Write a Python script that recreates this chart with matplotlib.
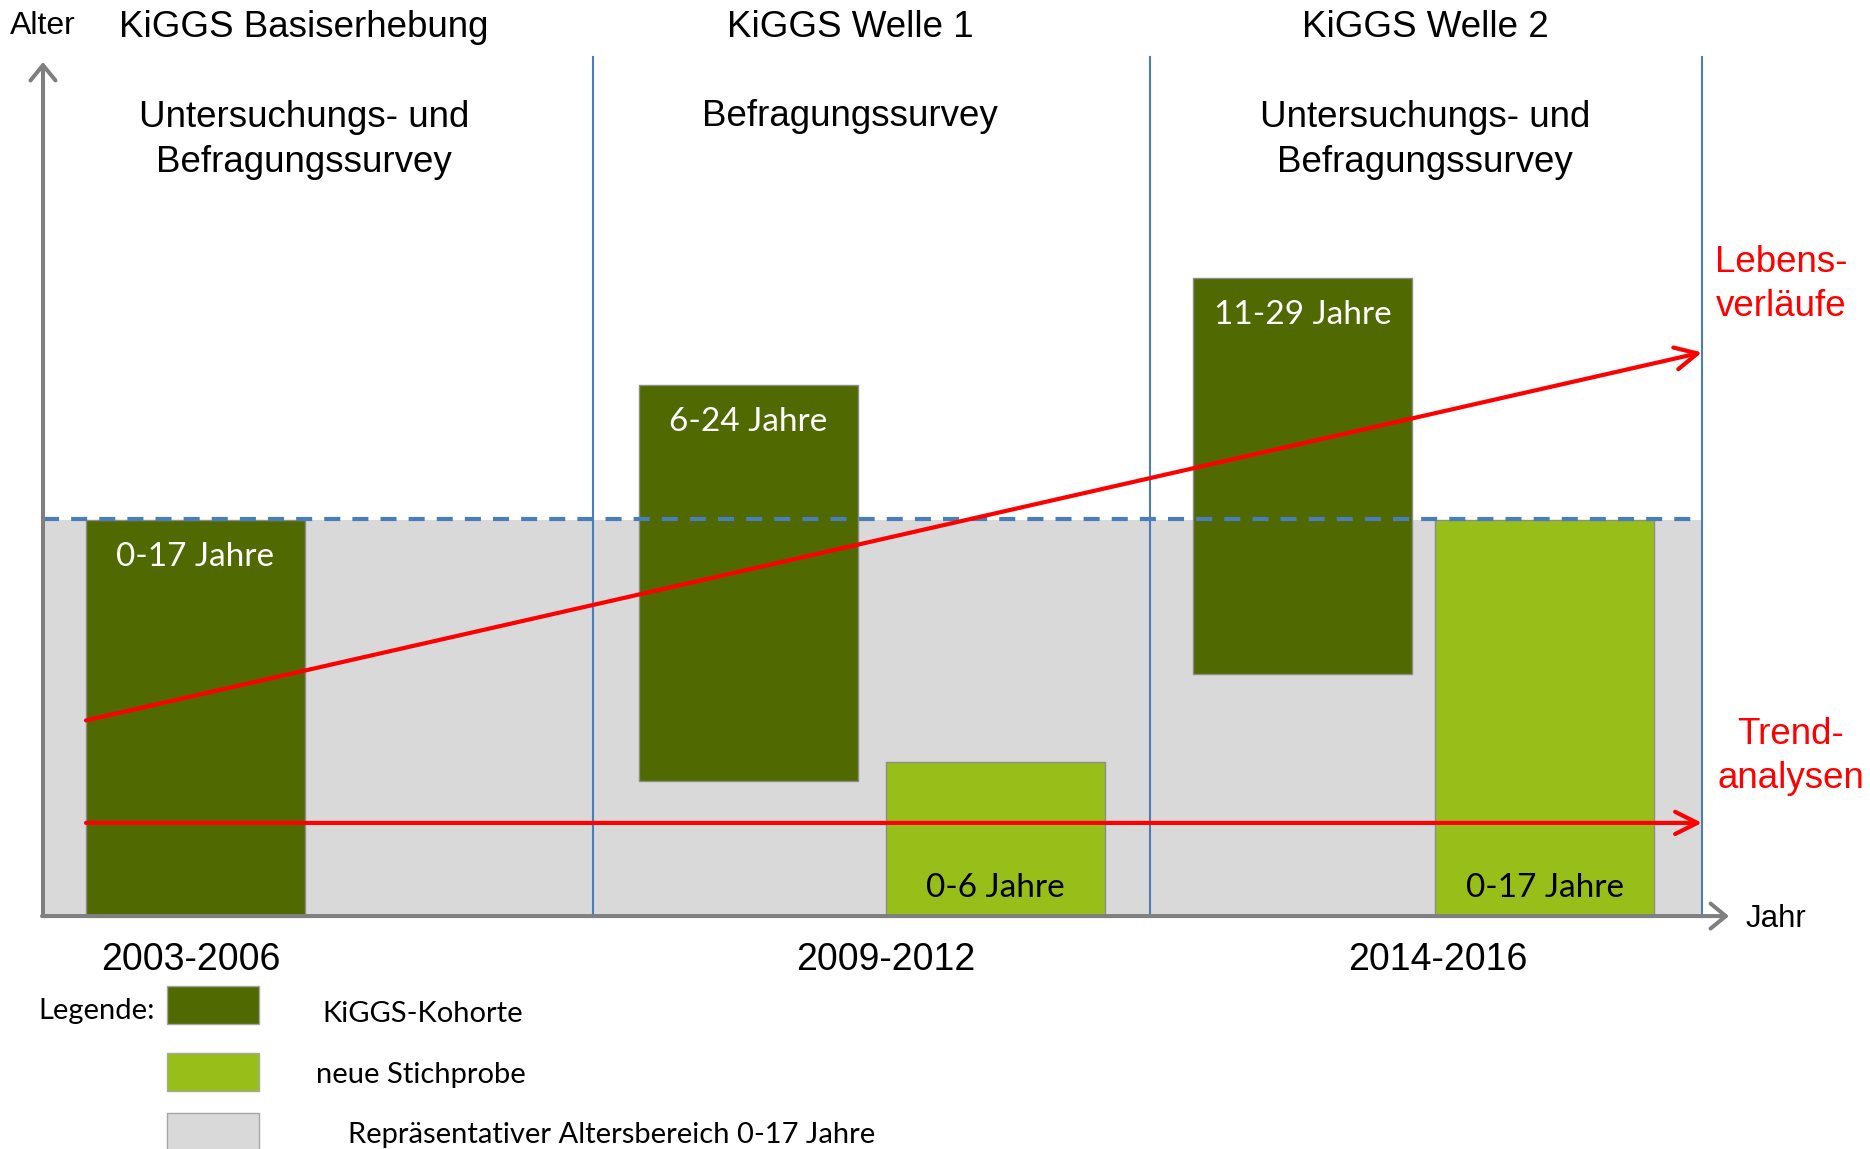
import matplotlib
matplotlib.use("Agg")
import matplotlib.pyplot as plt
from matplotlib.patches import Rectangle

# ---------------- data ----------------
waves = ["KiGGS Basiserhebung", "KiGGS Welle 1", "KiGGS Welle 2"]
survey_types = ["Untersuchungs- und\nBefragungssurvey", "Befragungssurvey",
                "Untersuchungs- und\nBefragungssurvey"]
periods = ["2003-2006", "2009-2012", "2014-2016"]
cohort_labels = ["0-17 Jahre", "6-24 Jahre", "0-6 Jahre", "11-29 Jahre", "0-17 Jahre"]
cohort_types = ["KiGGS-Kohorte", "KiGGS-Kohorte", "neue Stichprobe",
                "KiGGS-Kohorte", "neue Stichprobe"]
age_low = [0, 5.8, 0, 10.4, 0]
age_high = [17, 22.8, 6.6, 27.4, 17]
repr_range = [0, 17]
lebens_ages = [8.4, 24.2]
trend_age = [4.0, 4.0]
legend_labels = ["KiGGS-Kohorte", "neue Stichprobe", "Repräsentativer Altersbereich 0-17 Jahre"]

# ---------------- layout (pixels) ----------------
W, H = 1870, 1149
X0 = 43            # y axis position
X_AXIS_END = 1729
Y_TOP_TIP = 39.33 - 62 / 23.29   # arrow tip of age axis
wave_bounds = [593, 1150, 1702]
bar_left = [86, 639, 886, 1193, 1435]
bar_width = 219
header_x = [304, 850, 1425]
period_x = [191, 886, 1438]
YMIN, YMAX = -10.0, 39.33

DARK = "#506900"
LIGHT = "#98BE19"
GREY = "#D9D9D9"
BLUE = "#4A7EBB"
RED = "#FF0000"
AXG = "#7F7F7F"
colors = {"KiGGS-Kohorte": DARK, "neue Stichprobe": LIGHT}
txtcol = {"KiGGS-Kohorte": "white", "neue Stichprobe": "black"}

ARIAL = "Liberation Sans"
CAL = "Lato"

fig = plt.figure(figsize=(W / 100, H / 100), dpi=100)
ax = fig.add_axes([0, 0, 1, 1])
ax.set_xlim(0, W)
ax.set_ylim(YMIN, YMAX)
ax.axis("off")


def fx(px):
    return px / W


def fy(py):
    return 1 - py / H


# representative age band
ax.add_patch(Rectangle((X0, repr_range[0]), wave_bounds[-1] - X0, repr_range[1] - repr_range[0],
                       facecolor=GREY, edgecolor="none", zorder=1))

# bars
for i in range(len(cohort_labels)):
    ct = cohort_types[i]
    ax.bar(bar_left[i], age_high[i] - age_low[i], bottom=age_low[i], width=bar_width,
           align="edge", color=colors[ct], edgecolor="#8C8C8C", linewidth=1.0, zorder=2)
    xc = bar_left[i] + bar_width / 2
    if ct == "KiGGS-Kohorte":
        ax.annotate(cohort_labels[i], xy=(xc, age_high[i]), xytext=(0, -26.8),
                    textcoords="offset points", ha="center", va="center",
                    color=txtcol[ct], fontsize=24, family=CAL, zorder=5)
    else:
        ax.annotate(cohort_labels[i], xy=(xc, age_low[i]), xytext=(0, 20.3),
                    textcoords="offset points", ha="center", va="center",
                    color=txtcol[ct], fontsize=24, family=CAL, zorder=5)

# dashed upper limit of representative range
ax.plot([X0, wave_bounds[-1]], [repr_range[1] + 0.03, repr_range[1] + 0.03], color=BLUE,
        lw=3.0, dashes=(3.85, 2.9), zorder=3)

# wave separators
for xb in wave_bounds:
    ax.plot([xb, xb], [0, YMAX - 57 / 23.29], color=BLUE, lw=1.5, zorder=3)

# axes arrows
ax.annotate("", xy=(X0, Y_TOP_TIP), xytext=(X0, 0),
            arrowprops=dict(arrowstyle="->,head_length=0.55,head_width=0.45",
                            color=AXG, lw=2.9, shrinkA=0, shrinkB=0, mutation_scale=20), zorder=4)
ax.annotate("", xy=(X_AXIS_END, 0), xytext=(X0 - 1, 0),
            arrowprops=dict(arrowstyle="->,head_length=0.55,head_width=0.45",
                            color=AXG, lw=2.9, shrinkA=0, shrinkB=0, mutation_scale=20), zorder=4)

# red arrows
ax.annotate("", xy=(wave_bounds[-1], lebens_ages[1]), xytext=(bar_left[0], lebens_ages[0]),
            arrowprops=dict(arrowstyle="->,head_length=0.8,head_width=0.4",
                            color=RED, lw=3.0, shrinkA=0, shrinkB=0, mutation_scale=20), zorder=6)
ax.annotate("", xy=(wave_bounds[-1], trend_age[1]), xytext=(bar_left[0], trend_age[0]),
            arrowprops=dict(arrowstyle="->,head_length=0.8,head_width=0.4",
                            color=RED, lw=3.0, shrinkA=0, shrinkB=0, mutation_scale=20), zorder=6)

T = ax.transAxes
# axis labels
ax.text(fx(43), fy(26), "Alter", transform=T, ha="center", va="center", fontsize=23, family=ARIAL)
ax.text(fx(1746), fy(919), "Jahr", transform=T, ha="left", va="center", fontsize=22.5, family=ARIAL)

# headers
for i in range(3):
    ax.text(fx(header_x[i]), fy(27.5), waves[i], transform=T, ha="center", va="center",
            fontsize=26.5, family=ARIAL)
    yc = 140 if "\n" in survey_types[i] else 117
    ax.text(fx(header_x[i]), fy(yc), survey_types[i], transform=T, ha="center", va="center",
            fontsize=26.5, family=ARIAL, linespacing=1.37)
    ax.text(fx(period_x[i]), fy(959.5), periods[i], transform=T, ha="center", va="center",
            fontsize=27, family=ARIAL)

# red side labels
ax.text(fx(1781), fy(284.5), "Lebens-\nverläufe", transform=T, ha="center", va="center",
        fontsize=26.5, family=ARIAL, color=RED, linespacing=1.36, multialignment="center")
ax.text(fx(1791), fy(756.5), "Trend-\nanalysen", transform=T, ha="center", va="center",
        fontsize=26.5, family=ARIAL, color=RED, linespacing=1.36, multialignment="center")

# legend
ax.text(fx(38), fy(1010.5), "Legende:", transform=T, ha="left", va="center", fontsize=21, family=CAL)
leg_colors = [DARK, LIGHT, GREY]
leg_box_y = [986, 1053, 1113]
leg_text_pos = [(322, 1013.5), (316, 1074.5), (348, 1135.5)]
for i in range(3):
    ax.add_patch(Rectangle((fx(167), fy(leg_box_y[i] + 38)), fx(92), 38 / H, transform=T,
                           facecolor=leg_colors[i], edgecolor="#A6A6A6", lw=1.0, clip_on=False))
    ax.text(fx(leg_text_pos[i][0]), fy(leg_text_pos[i][1]), legend_labels[i], transform=T,
            ha="left", va="center", fontsize=21, family=CAL)

fig.savefig("out.png", dpi=100)
